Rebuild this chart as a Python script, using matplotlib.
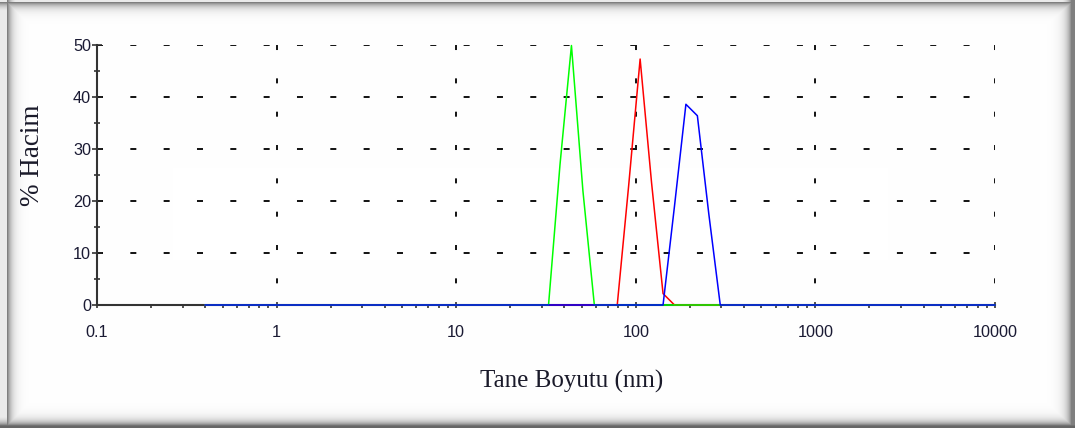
import numpy as np
import matplotlib
matplotlib.use("Agg")
import matplotlib.pyplot as plt
from matplotlib.ticker import LogLocator, MultipleLocator, NullFormatter

plt.rcParams['font.family'] = ['Liberation Sans', 'DejaVu Sans']
plt.rcParams['lines.scale_dashes'] = False

# boyut sınıfları (nm) ve hacim yüzdeleri
green_size = [0.4, 32.67, 37.84, 43.82, 50.75, 58.77, 10000]
green_vol = [0, 0, 27.0, 49.9, 22.0, 0, 0]

red_size = [0.4, 78.82, 91.28, 105.7, 122.4, 141.8, 164.2, 10000]
red_vol = [0, 0, 23.0, 47.3, 23.5, 2.2, 0, 0]

blue_size = [0.4, 141.8, 164.2, 190.1, 220.2, 255.0, 295.3, 10000]
blue_vol = [0, 0, 19.0, 38.6, 36.4, 17.5, 0, 0]

x_ticks = [0.1, 1, 10, 100, 1000, 10000]
x_tick_labels = ['0.1', '1', '10', '100', '1000', '10000']
y_ticks = [0, 10, 20, 30, 40, 50]

W, H = 1075, 428
px = 0.72  # 1 piksel -> punto (dpi 100)

fig = plt.figure(figsize=(W / 100, H / 100), dpi=100)

# çerçeve gölgesi
xx = np.arange(W)[None, :].astype(float)
yy = np.arange(H)[:, None].astype(float)
left = np.where(xx >= 7, 0.5 * np.exp(-(xx - 7) / 4.5), 0.08)
top = np.where(yy >= 2, 0.5 * np.exp(-(yy - 2) / 4.5), 0.08)
right = np.where(xx <= 1071, 0.5 * np.exp(-(1071 - xx) / 5.0), 0.5)
bottom = np.where(yy <= 425, 0.55 * np.exp(-(425 - yy) / 4.5), 0.6)
shade = np.maximum(np.maximum(left, top), np.maximum(right, bottom))
shade = np.broadcast_to(shade, (H, W))
bg = 1 - shade
rgb = np.dstack([bg, bg, bg])
fig.figimage(rgb, 0, 0, origin='upper', zorder=-10)
fig.patch.set_alpha(0)

ax = fig.add_axes([97 / W, 1 - 305 / H, 898 / W, 260 / H])
ax.set_facecolor('none')

ax.plot(red_size, red_vol, color='#ff0000', lw=1.1, zorder=3, clip_on=False)
ax.plot(green_size, green_vol, color='#00ff00', lw=1.1, zorder=4, clip_on=False)
ax.plot(blue_size, blue_vol, color='#0000ff', lw=1.1, zorder=5, clip_on=False)

ax.set_xscale('log')
ax.set_xlim(0.1, 10000)
ax.set_ylim(0, 50)
ax.set_xticks(x_ticks)
ax.set_xticklabels(x_tick_labels)
ax.xaxis.set_minor_locator(LogLocator(base=10, subs=np.arange(2, 10)))
ax.xaxis.set_minor_formatter(NullFormatter())
ax.set_yticks(y_ticks)
ax.yaxis.set_minor_locator(MultipleLocator(5))

for s in ['top', 'right']:
    ax.spines[s].set_visible(False)
for s in ['left', 'bottom']:
    ax.spines[s].set_color('#333333')
    ax.spines[s].set_linewidth(1.5)

ax.tick_params(axis='y', which='major', direction='inout', length=6.5, width=1.1,
               color='#222222', labelsize=11.7, labelcolor='#1a1a33', pad=1)
ax.tick_params(axis='y', which='minor', direction='inout', length=4.5, width=1.1,
               color='#222222')
ax.tick_params(axis='x', which='major', direction='inout', length=5, width=1.1,
               color='#222222', labelsize=11.7, labelcolor='#1a1a33', pad=12)
ax.tick_params(axis='x', which='minor', direction='out', length=2.5, width=1.1,
               color='#222222')

# kesikli ızgara
ax.yaxis.grid(True, which='major', color='#111111', linewidth=1.4,
              linestyle=(0, (6 * px, 27.33 * px)))
ax.xaxis.grid(True, which='major', color='#111111', linewidth=1.4,
              linestyle=(11.67 * px, (5 * px, 28.33 * px)))
ax.set_axisbelow(True)

ax.set_xlabel('Tane Boyutu (nm)', family=['Liberation Serif', 'DejaVu Serif'],
              fontsize=18, color='#1a1a2a', va='top')
ax.xaxis.set_label_coords((571.7 - 97) / 898, (305 - 370) / 260)
ax.set_ylabel('% Hacim', family=['Liberation Serif', 'DejaVu Serif'],
              fontsize=19.5, color='#1a1a2a')
ax.yaxis.set_label_coords(-0.058, (305 - 155) / 260)

fig.savefig('out.png', dpi=100)
